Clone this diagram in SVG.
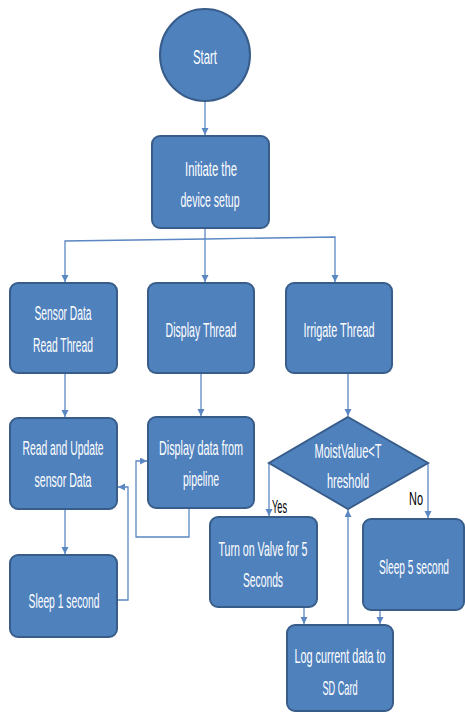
<svg xmlns="http://www.w3.org/2000/svg" width="465" height="712" viewBox="0 0 465 712">
<defs>
<marker id="arr" markerUnits="userSpaceOnUse" markerWidth="8" markerHeight="8" refX="7" refY="3.5" orient="auto">
<path d="M0,0 L7,3.5 L0,7 z" fill="#5b87c2"/>
</marker>
<style>
.n{fill:#4f81bd;stroke:#385d8a;stroke-width:2}
.t{fill:#ffffff;font-family:"Liberation Sans","DejaVu Sans",sans-serif;font-size:20px;text-anchor:middle}
.l{fill:#000000;font-family:"Liberation Sans","DejaVu Sans",sans-serif;font-size:18px}
.c{fill:none;stroke:#5b87c2;stroke-width:1.3}
.c path{marker-end:url(#arr)}
</style>
</defs>
<rect width="465" height="712" fill="#ffffff"/>
<g id="connectors" class="c">
<path d="M205,102 V135"/>
<path d="M205,228 V282"/>
<path d="M205,239 L65,241 V282"/>
<path d="M205,239 L335,237 V282"/>
<path d="M65,373 V417"/>
<path d="M201,373 V416"/>
<path d="M65,509 V554"/>
<path d="M117,600 H128 V487 H118"/>
<path d="M189,508 V537 H136 V461 H147"/>
<path d="M348,373 V416"/>
<path d="M269,463 V516"/>
<path d="M428,463 V518"/>
<path d="M304,607 V624"/>
<path d="M380,610 V624"/>
<path d="M348,625 V510"/>
</g>
<g id="start">
<ellipse class="n" cx="205" cy="55" rx="45" ry="46"/>
<text class="t" transform="translate(205,64) scale(0.6,1)" textLength="40" lengthAdjust="spacingAndGlyphs">Start</text>
</g>
<g id="init">
<rect class="n" x="152" y="136" width="117" height="92" rx="8"/>
<text class="t" transform="translate(211,176) scale(0.6,1)" textLength="86.7" lengthAdjust="spacingAndGlyphs">Initiate the</text>
<text class="t" transform="translate(210,207) scale(0.6,1)" textLength="98.3" lengthAdjust="spacingAndGlyphs">device setup</text>
</g>
<g id="sensor">
<rect class="n" x="10" y="283" width="107" height="90" rx="8"/>
<text class="t" transform="translate(63,320) scale(0.6,1)" textLength="95" lengthAdjust="spacingAndGlyphs">Sensor Data</text>
<text class="t" transform="translate(63,352) scale(0.6,1)" textLength="100" lengthAdjust="spacingAndGlyphs">Read Thread</text>
</g>
<g id="display">
<rect class="n" x="148" y="283" width="106" height="90" rx="8"/>
<text class="t" transform="translate(201,337) scale(0.6,1)" textLength="118.3" lengthAdjust="spacingAndGlyphs">Display Thread</text>
</g>
<g id="irrigate">
<rect class="n" x="286" y="283" width="106" height="90" rx="8"/>
<text class="t" transform="translate(339,337) scale(0.6,1)" textLength="118.3" lengthAdjust="spacingAndGlyphs">Irrigate Thread</text>
</g>
<g id="read">
<rect class="n" x="10" y="418" width="107" height="91" rx="8"/>
<text class="t" transform="translate(63,455) scale(0.6,1)" textLength="135" lengthAdjust="spacingAndGlyphs">Read and Update</text>
<text class="t" transform="translate(63,487) scale(0.6,1)" textLength="95" lengthAdjust="spacingAndGlyphs">sensor Data</text>
</g>
<g id="displaydata">
<rect class="n" x="148" y="417" width="106" height="91" rx="8"/>
<text class="t" transform="translate(201,455) scale(0.6,1)" textLength="140" lengthAdjust="spacingAndGlyphs">Display data from</text>
<text class="t" transform="translate(201,486) scale(0.6,1)" textLength="60" lengthAdjust="spacingAndGlyphs">pipeline</text>
</g>
<g id="sleep1">
<rect class="n" x="10" y="555" width="107" height="82" rx="8"/>
<text class="t" transform="translate(64,608) scale(0.6,1)" textLength="118.3" lengthAdjust="spacingAndGlyphs">Sleep 1 second</text>
</g>
<g id="decision">
<polygon class="n" points="348,417 428,463 348,509 269,463"/>
<text class="t" transform="translate(348,458) scale(0.6,1)" textLength="111.7" lengthAdjust="spacingAndGlyphs">MoistValue&lt;T</text>
<text class="t" transform="translate(348,488) scale(0.6,1)" textLength="70" lengthAdjust="spacingAndGlyphs">hreshold</text>
</g>
<g id="labels">
<text class="l" transform="translate(272,513) scale(0.6,1)" textLength="25" lengthAdjust="spacingAndGlyphs">Yes</text>
<text class="l" transform="translate(409,505) scale(0.6,1)" textLength="23.3" lengthAdjust="spacingAndGlyphs">No</text>
</g>
<g id="valve">
<rect class="n" x="210" y="517" width="107" height="90" rx="8"/>
<text class="t" transform="translate(263,556) scale(0.6,1)" textLength="148.3" lengthAdjust="spacingAndGlyphs">Turn on Valve for 5</text>
<text class="t" transform="translate(263,587) scale(0.6,1)" textLength="66.7" lengthAdjust="spacingAndGlyphs">Seconds</text>
</g>
<g id="sleep5">
<rect class="n" x="363" y="519" width="101" height="91" rx="8"/>
<text class="t" transform="translate(414,574) scale(0.6,1)" textLength="116.7" lengthAdjust="spacingAndGlyphs">Sleep 5 second</text>
</g>
<g id="log">
<rect class="n" x="287" y="625" width="106" height="86" rx="8"/>
<text class="t" transform="translate(340,663) scale(0.6,1)" textLength="151.7" lengthAdjust="spacingAndGlyphs">Log current data to</text>
<text class="t" transform="translate(340,695) scale(0.6,1)" textLength="58.3" lengthAdjust="spacingAndGlyphs">SD Card</text>
</g>
</svg>
